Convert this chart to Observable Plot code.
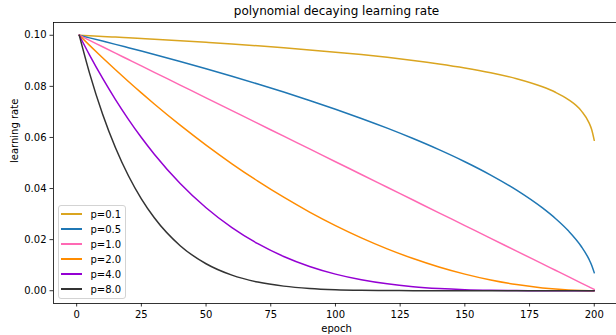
<!DOCTYPE html>
<html>
<head>
<meta charset="utf-8">
<script src="https://cdn.jsdelivr.net/npm/d3@7"></script>
<script src="https://cdn.jsdelivr.net/npm/@observablehq/plot@0.6"></script>
<style>
  html, body { margin: 0; padding: 0; background: white; }
  #wrap { position: relative; width: 616px; height: 335px; overflow: hidden; font-family: "DejaVu Sans", sans-serif; }
  #legend { position: absolute; left: 57.5px; top: 205px; width: 68px; height: 94px; box-sizing: border-box;
    border: 1px solid #d3d3d3; border-radius: 3px; background: rgba(255,255,255,0.8); padding-top: 0.5px; }
  .row { height: 15px; display: flex; align-items: center; font-size: 10px; color: #000; }
  .sw { width: 21px; height: 1.5px; margin-left: 2.5px; margin-right: 8.5px; }
</style>
</head>
<body>
<div id="wrap"><div id="chart"></div><div id="legend"></div></div>
<script>
const title = "polynomial decaying learning rate";
const xLabel = "epoch";
const yLabel = "learning rate";
const seriesLabels = ["p=0.1", "p=0.5", "p=1.0", "p=2.0", "p=4.0", "p=8.0"];
const seriesColors = ["#daa520", "#1f77b4", "#ff69b4", "#ff8c00", "#9400d3", "#333333"];
const xTicks = [0, 25, 50, 75, 100, 125, 150, 175, 200];
const yTicks = [0, 0.02, 0.04, 0.06, 0.08, 0.10];
const xDomain = [-8.95, 209.95];
const yDomain = [-0.005, 0.105];

const epochs = [1, 5, 10, 15, 20, 25, 30, 40, 50, 60, 70, 80, 90, 100, 110, 120, 130, 140, 150, 160, 170, 180, 185, 190, 195, 198, 199, 200];
const lrP01 = [0.1, 0.09980, 0.09954, 0.09928, 0.09901, 0.09873, 0.09845, 0.09785, 0.09723, 0.09657, 0.09586, 0.09510, 0.09428, 0.09340, 0.09243, 0.09136, 0.09016, 0.08880, 0.08723, 0.08534, 0.08299, 0.07982, 0.07768, 0.07482, 0.07042, 0.06571, 0.06310, 0.05887];
const lrP05 = [0.1, 0.09899, 0.09772, 0.09644, 0.09513, 0.09381, 0.09247, 0.08972, 0.08689, 0.08396, 0.08093, 0.07778, 0.07450, 0.07106, 0.06745, 0.06364, 0.05958, 0.05523, 0.05050, 0.04528, 0.03937, 0.03240, 0.02828, 0.02345, 0.01732, 0.01225, 0.01000, 0.00707];
const lrP1 = [0.1, 0.098, 0.0955, 0.093, 0.0905, 0.088, 0.0855, 0.0805, 0.0755, 0.0705, 0.0655, 0.0605, 0.0555, 0.0505, 0.0455, 0.0405, 0.0355, 0.0305, 0.0255, 0.0205, 0.0155, 0.0105, 0.008, 0.0055, 0.003, 0.0015, 0.001, 0.0005];
const lrP2 = [0.1, 0.09604, 0.09120, 0.08649, 0.08190, 0.07744, 0.07310, 0.06480, 0.05700, 0.04970, 0.04290, 0.03660, 0.03080, 0.02550, 0.02070, 0.01640, 0.01260, 0.00930, 0.00650, 0.00420, 0.00240, 0.00110, 0.00064, 0.00030, 0.00009, 0.00002, 0.00001, 0.0];
const lrP4 = [0.1, 0.09224, 0.08318, 0.07481, 0.06708, 0.05997, 0.05344, 0.04199, 0.03249, 0.02470, 0.01841, 0.01340, 0.00949, 0.00650, 0.00429, 0.00269, 0.00159, 0.00087, 0.00042, 0.00018, 0.00006, 0.00001, 0, 0, 0, 0, 0, 0];
const lrP8 = [0.1, 0.08508, 0.06919, 0.05596, 0.04500, 0.03596, 0.02856, 0.01763, 0.01056, 0.00610, 0.00339, 0.00180, 0.00090, 0.00042, 0.00018, 0.00007, 0.00003, 0.00001, 0, 0, 0, 0, 0, 0, 0, 0, 0, 0];

const seriesValues = [lrP01, lrP05, lrP1, lrP2, lrP4, lrP8];
const rows = [];
seriesValues.forEach((vals, i) => vals.forEach((v, j) => rows.push({epoch: epochs[j], lr: v, p: seriesLabels[i]})));

const W = 616, H = 335, mL = 53, mT = 22, mB = 32;
const chart = Plot.plot({
  width: W, height: H,
  marginLeft: mL, marginRight: 0, marginTop: mT, marginBottom: mB,
  style: {fontFamily: "DejaVu Sans, sans-serif", fontSize: "10px", background: "white", color: "#000", overflow: "hidden"},
  x: {domain: xDomain, range: [mL, 619.5]},
  y: {domain: yDomain, range: [H - mB, mT]},
  color: {domain: seriesLabels, range: seriesColors},
  marks: [
    Plot.line(rows, {x: "epoch", y: "lr", z: "p", stroke: "p", strokeWidth: 1.5, curve: "monotone-x"}),
    Plot.ruleX([xDomain[0]], {stroke: "#000", strokeWidth: 0.8}),
    Plot.ruleY(yDomain, {stroke: "#000", strokeWidth: 0.8}),
    Plot.axisX({ticks: xTicks, tickSize: 3.5, tickPadding: 3.5, tickFormat: d3.format("d"), label: null, fontSize: 10, strokeWidth: 0.8}),
    Plot.axisY({ticks: yTicks, tickSize: 3.5, tickPadding: 3.5, tickFormat: d3.format(".2f"), label: null, fontSize: 10, strokeWidth: 0.8}),
    Plot.text([title], {frameAnchor: "top", lineAnchor: "middle", dy: -11, dx: 1.5, fontSize: 12, fill: "#000"}),
    Plot.text([xLabel], {frameAnchor: "bottom", lineAnchor: "middle", dy: 25, dx: 1.5, fontSize: 10, fill: "#000"}),
    Plot.text([yLabel], {frameAnchor: "left", lineAnchor: "middle", dx: -39, rotate: -90, fontSize: 10, fill: "#000"})
  ]
});
document.getElementById("chart").appendChild(chart);

const legend = document.getElementById("legend");
seriesLabels.forEach((lab, i) => {
  const r = document.createElement("div");
  r.className = "row";
  const s = document.createElement("div");
  s.className = "sw";
  s.style.background = seriesColors[i];
  const t = document.createElement("span");
  t.textContent = lab;
  r.appendChild(s); r.appendChild(t);
  legend.appendChild(r);
});
</script>
</body>
</html>
